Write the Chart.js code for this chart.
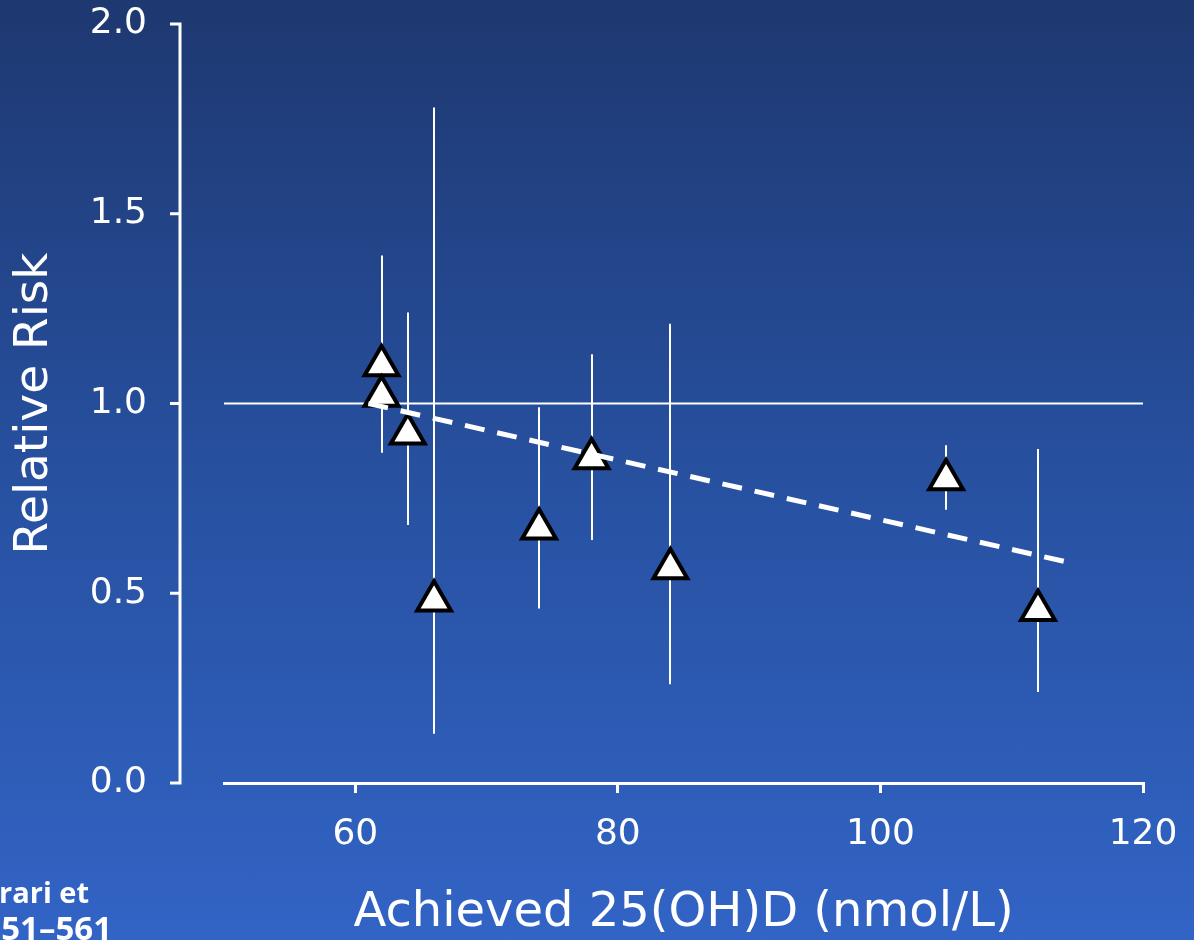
<!DOCTYPE html>
<html>
<head>
  <meta charset="UTF-8">
  <title>Relative Risk vs achieved 25(OH)D</title>
  <script src="https://cdn.jsdelivr.net/npm/chart.js"></script>
  <style>
    html, body {
      margin: 0;
      padding: 0;
    }
    body {
      width: 1194px;
      height: 940px;
      overflow: hidden;
      background: linear-gradient(to bottom, #1e3870 0%, #27509f 50%, #3264c6 100%);
    }
    canvas {
      display: block;
    }
  </style>
</head>
<body>
  <canvas id="rrChart" width="1194" height="940"></canvas>

  <script>
    // Achieved 25(OH)D (nmol/L) and relative risk per trial
    const achievedLevels = [62, 62, 64, 66, 74, 78, 84, 105, 112];
    const relativeRisk   = [1.10, 1.02, 0.92, 0.48, 0.67, 0.855, 0.565, 0.80, 0.455];
    const ciLower        = [0.87, null, 0.68, 0.13, 0.46, 0.64, 0.26, 0.72, 0.24];
    const ciUpper        = [1.39, null, 1.24, 1.78, 0.99, 1.13, 1.21, 0.89, 0.88];

    // dashed trend line (meta-regression)
    const trendX = [61, 114.5];
    const trendY = [1.0, 0.58];

    // reference line at RR = 1
    const refX = [50, 120];
    const refY = [1, 1];

    const xTicks = [60, 80, 100, 120];
    const yTicks = [0, 0.5, 1.0, 1.5, 2.0];

    const FONT = "'DejaVu Sans', sans-serif";

    const toPoints = (xs, ys) => xs.map((x, i) => ({ x: x, y: ys[i] }));

    // vertical confidence interval bars, behind the markers
    const errorBars = {
      id: 'errorBars',
      beforeDatasetsDraw(chart) {
        const { ctx, scales: { x, y } } = chart;
        ctx.save();
        ctx.strokeStyle = '#ffffff';
        ctx.lineWidth = 2;
        achievedLevels.forEach((lvl, i) => {
          if (ciLower[i] == null) return;
          const px = Math.round(x.getPixelForValue(lvl));
          ctx.beginPath();
          ctx.moveTo(px, y.getPixelForValue(ciLower[i]));
          ctx.lineTo(px, y.getPixelForValue(ciUpper[i]));
          ctx.stroke();
        });
        ctx.restore();
      }
    };

    // y axis line is set off to the left of the plot area
    const offsetYAxis = {
      id: 'offsetYAxis',
      afterDraw(chart) {
        const { ctx, chartArea, scales: { y } } = chart;
        const x0 = chartArea.left - 44;
        const top = y.getPixelForValue(yTicks[yTicks.length - 1]);
        const bottom = y.getPixelForValue(yTicks[0]);
        ctx.save();
        ctx.strokeStyle = '#ffffff';
        ctx.lineWidth = 3;
        ctx.beginPath();
        ctx.moveTo(x0 - 10, top);
        ctx.lineTo(x0, top);
        ctx.lineTo(x0, bottom);
        ctx.lineTo(x0 - 10, bottom);
        ctx.stroke();
        yTicks.slice(1, -1).forEach(v => {
          const py = y.getPixelForValue(v);
          ctx.beginPath();
          ctx.moveTo(x0 - 10, py);
          ctx.lineTo(x0, py);
          ctx.stroke();
        });

        // source note, cut at the slide edge
        ctx.fillStyle = '#ffffff';
        ctx.textAlign = 'right';
        ctx.textBaseline = 'alphabetic';
        ctx.font = "bold 29px 'Open Sans', sans-serif";
        ctx.fillText('rari et', 89, 903);
        ctx.font = "bold 33px 'Open Sans', sans-serif";
        ctx.fillText('51–561', 112, 940);
        ctx.restore();
      }
    };

    new Chart(document.getElementById('rrChart'), {
      type: 'scatter',
      data: {
        datasets: [
          {
            label: 'Trend',
            data: toPoints(trendX, trendY),
            showLine: true,
            borderColor: '#ffffff',
            borderWidth: 5,
            borderDash: [20, 13],
            pointRadius: 0
          },
          {
            label: 'Trials',
            data: toPoints(achievedLevels, relativeRisk),
            pointStyle: 'triangle',
            pointRadius: 19.5,
            pointBorderWidth: 4,
            pointBorderColor: '#000000',
            pointBackgroundColor: '#ffffff'
          },
          {
            label: 'RR = 1',
            data: toPoints(refX, refY),
            showLine: true,
            borderColor: '#ffffff',
            borderWidth: 2,
            pointRadius: 0
          }
        ]
      },
      options: {
        responsive: false,
        animation: false,
        events: [],
        layout: {
          padding: { top: 24, right: 51, bottom: 0, left: 0 }
        },
        plugins: {
          legend: { display: false },
          tooltip: { enabled: false }
        },
        scales: {
          x: {
            type: 'linear',
            min: 50,
            max: 120,
            afterBuildTicks: s => { s.ticks = xTicks.map(v => ({ value: v })); },
            afterFit: s => { s.height = 157; },
            border: { display: true, color: '#ffffff', width: 3 },
            grid: {
              display: true,
              drawOnChartArea: false,
              drawTicks: true,
              tickLength: 10,
              color: '#ffffff',
              lineWidth: 3
            },
            ticks: {
              color: '#ffffff',
              padding: 0,
              font: { family: FONT, size: 36, lineHeight: 2.33 }
            },
            title: {
              display: true,
              text: 'Achieved 25(OH)D (nmol/L)',
              color: '#ffffff',
              font: { family: FONT, size: 48, lineHeight: 1 },
              padding: { top: 0, bottom: 2 }
            }
          },
          y: {
            type: 'linear',
            min: 0,
            max: 2,
            afterBuildTicks: s => { s.ticks = yTicks.map(v => ({ value: v })); },
            afterFit: s => { s.width = 224; },
            border: { display: false },
            grid: {
              display: true,
              drawOnChartArea: false,
              drawTicks: true,
              tickLength: 77,
              color: 'rgba(0,0,0,0)'
            },
            ticks: {
              color: '#ffffff',
              padding: 0,
              font: { family: FONT, size: 36 },
              callback: v => v.toFixed(1)
            },
            title: {
              display: true,
              text: 'Relative Risk',
              color: '#ffffff',
              font: { family: FONT, size: 47, lineHeight: 1 },
              padding: { top: 11, bottom: 0 }
            }
          }
        }
      },
      plugins: [errorBars, offsetYAxis]
    });
  </script>
</body>
</html>
